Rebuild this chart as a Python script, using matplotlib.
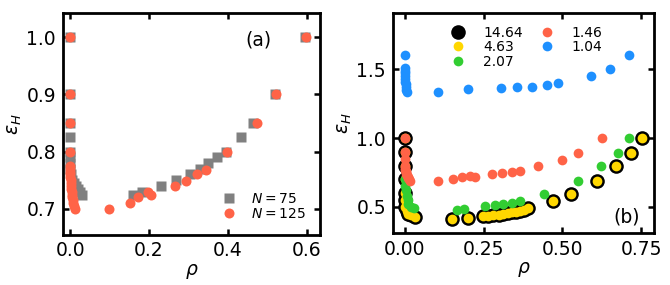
import matplotlib
matplotlib.use('Agg')
import matplotlib.pyplot as plt

# panel (a): N = 75 (grey squares) and N = 125 (red circles)
rho_n75 = [0.0, 0.0, 0.0, 0.0, 0.0, 0.0, 0.0, 0.001, 0.002, 0.004, 0.01, 0.015, 0.02, 0.025, 0.03,
           0.16, 0.182, 0.23, 0.269, 0.303, 0.33, 0.351, 0.373, 0.395, 0.434, 0.464, 0.519, 0.597]
eps_n75 = [1.0, 0.9, 0.85, 0.825, 0.8, 0.79, 0.78, 0.77, 0.76, 0.75, 0.745, 0.74, 0.735, 0.73, 0.725,
           0.725, 0.73, 0.74, 0.75, 0.76, 0.77, 0.78, 0.79, 0.80, 0.825, 0.85, 0.9, 1.0]

rho_n125 = [0.0, 0.0, 0.0, 0.0, 0.0, 0.0, 0.0005, 0.001, 0.001, 0.0015, 0.002, 0.0025, 0.003, 0.004,
            0.005, 0.006, 0.007, 0.008, 0.01, 0.013,
            0.099, 0.151, 0.173, 0.197, 0.206, 0.266, 0.293, 0.321, 0.344, 0.399, 0.473, 0.523, 0.599]
eps_n125 = [1.0, 0.9, 0.85, 0.8, 0.775, 0.77, 0.765, 0.76, 0.755, 0.75, 0.745, 0.74, 0.735, 0.73,
            0.725, 0.72, 0.715, 0.71, 0.705, 0.70,
            0.70, 0.71, 0.72, 0.73, 0.724, 0.739, 0.749, 0.76, 0.768, 0.80, 0.85, 0.9, 1.0]

# panel (b): one series per legend value
rho_1464 = [0.0, 0.0, 0.0, 0.0, 0.0, 0.0, 0.0, 0.005, 0.01, 0.02, 0.033,
            0.15, 0.199, 0.249, 0.265, 0.28, 0.297, 0.312, 0.326, 0.339, 0.352, 0.365, 0.378, 0.39,
            0.471, 0.528, 0.611, 0.669, 0.717, 0.754]
eps_1464 = [1.0, 0.9, 0.8, 0.7, 0.6, 0.55, 0.5, 0.47, 0.45, 0.44, 0.425,
            0.41, 0.42, 0.434, 0.437, 0.44, 0.443, 0.447, 0.453, 0.459, 0.464, 0.47, 0.48, 0.49,
            0.544, 0.593, 0.69, 0.795, 0.893, 1.0]

rho_463 = [0.0, 0.0, 0.0, 0.0, 0.0, 0.0, 0.0, 0.005, 0.01, 0.02, 0.033,
           0.15, 0.199, 0.249, 0.265, 0.28, 0.297, 0.312, 0.326, 0.339, 0.352, 0.365, 0.378, 0.39,
           0.471, 0.528, 0.611, 0.669, 0.717, 0.754]
eps_463 = [1.0, 0.9, 0.8, 0.7, 0.6, 0.55, 0.5, 0.47, 0.45, 0.44, 0.425,
           0.41, 0.42, 0.434, 0.437, 0.44, 0.443, 0.447, 0.453, 0.459, 0.464, 0.47, 0.48, 0.49,
           0.544, 0.593, 0.69, 0.795, 0.893, 1.0]

rho_207 = [0.0, 0.0, 0.003, 0.005, 0.008, 0.01, 0.02, 0.03,
           0.164, 0.189, 0.254, 0.286, 0.312, 0.339, 0.365,
           0.443, 0.551, 0.622, 0.678, 0.713]
eps_207 = [0.7, 0.65, 0.62, 0.58, 0.55, 0.52, 0.5, 0.49,
           0.477, 0.486, 0.508, 0.515, 0.52, 0.53, 0.54,
           0.593, 0.69, 0.795, 0.893, 1.0]

rho_146 = [0.0, 0.0, 0.0, 0.0, 0.0, 0.001, 0.002, 0.003, 0.004, 0.006, 0.008, 0.01, 0.013, 0.015,
           0.104, 0.154, 0.18, 0.207, 0.222, 0.275, 0.307, 0.339, 0.365, 0.422, 0.498, 0.551, 0.625]
eps_146 = [1.0, 0.9, 0.85, 0.8, 0.78, 0.77, 0.76, 0.75, 0.74, 0.73, 0.72, 0.71, 0.70, 0.69,
           0.69, 0.702, 0.715, 0.727, 0.72, 0.739, 0.744, 0.756, 0.763, 0.795, 0.841, 0.89, 1.0]

rho_104 = [0.0, 0.0, 0.0, 0.0, 0.0, 0.0, 0.001, 0.002, 0.003, 0.004, 0.005,
           0.104, 0.199, 0.305, 0.355, 0.403, 0.45, 0.487, 0.591, 0.651, 0.712]
eps_104 = [1.605, 1.51, 1.49, 1.47, 1.45, 1.43, 1.41, 1.39, 1.37, 1.35, 1.337,
           1.337, 1.354, 1.361, 1.368, 1.373, 1.385, 1.398, 1.451, 1.5, 1.605]

FS = 13.5


def style_axis(ax):
    for sp in ax.spines.values():
        sp.set_linewidth(2)
    ax.tick_params(direction='in', top=True, right=True, length=4.5, width=1.8,
                   labelsize=FS, pad=5)
    ax.set_xlabel(r'$\rho$', fontsize=FS, labelpad=1)
    ax.set_ylabel(r'$\varepsilon_H$', fontsize=FS, labelpad=2)


figure = plt.figure(figsize=(6.7, 2.85), dpi=100)
ax1 = figure.add_axes([0.094, 0.177, 0.3836, 0.777])
ax2 = figure.add_axes([0.5866, 0.182, 0.3896, 0.772])

# (a)
ax1.plot(rho_n75, eps_n75, 's', color='grey', ms=6.5, mec='none', label=r'$N=75$')
ax1.plot(rho_n125, eps_n125, 'o', color='tomato', ms=7.2, mec='none', label=r'$N=125$')
ax1.set_xlim(-0.018, 0.634)
ax1.set_ylim(0.655, 1.042)
ax1.set_xticks([0.0, 0.2, 0.4, 0.6])
ax1.set_yticks([0.7, 0.8, 0.9, 1.0])
style_axis(ax1)
ax1.text(0.76, 0.88, '(a)', transform=ax1.transAxes, ha='center', va='center', fontsize=FS)
ax1.legend(loc='lower right', frameon=False, fontsize=10, handletextpad=0.6,
           labelspacing=0.05, borderaxespad=0.6)

# (b)
ax2.plot(rho_1464, eps_1464, 'o', color='black', ms=10.5, mec='none', label='14.64')
ax2.plot(rho_463, eps_463, 'o', color='gold', ms=7, mec='none', label='4.63')
ax2.plot(rho_207, eps_207, 'o', color='limegreen', ms=7, mec='none', label='2.07')
ax2.plot(rho_146, eps_146, 'o', color='tomato', ms=7, mec='none', label='1.46')
ax2.plot(rho_104, eps_104, 'o', color='dodgerblue', ms=7, mec='none', label='1.04')
ax2.set_xlim(-0.038, 0.791)
ax2.set_ylim(0.309, 1.908)
ax2.set_xticks([0.0, 0.25, 0.5, 0.75])
ax2.set_yticks([0.5, 1.0, 1.5])
style_axis(ax2)
ax2.text(0.895, 0.075, '(b)', transform=ax2.transAxes, ha='center', va='center', fontsize=FS)
ax2.legend(loc='upper center', ncol=2, frameon=False, fontsize=10, handletextpad=0.8,
           labelspacing=0.05, columnspacing=0.7, borderaxespad=0.5)

figure.savefig('out.png', dpi=100)
